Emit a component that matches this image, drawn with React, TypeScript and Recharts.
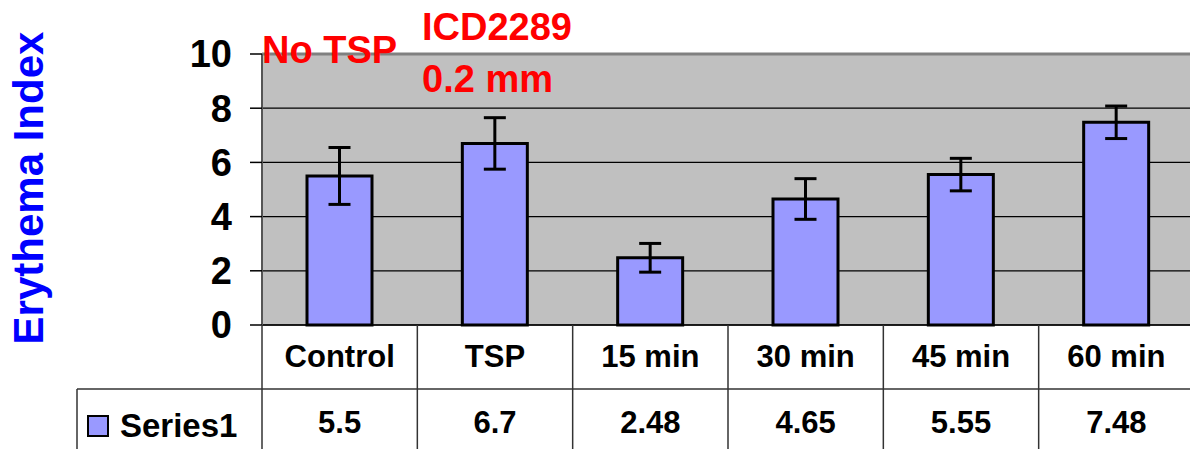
import React from 'react';
import { BarChart, Bar, XAxis, YAxis, CartesianGrid, ErrorBar, ReferenceLine } from 'recharts';

const categories = ['Control', 'TSP', '15 min', '30 min', '45 min', '60 min'];
const series1 = [5.5, 6.7, 2.48, 4.65, 5.55, 7.48];
const series1Err = [1.05, 0.95, 0.53, 0.75, 0.6, 0.6];
const yTicks = [0, 2, 4, 6, 8, 10];

const data = categories.map((name, i) => ({ name, value: series1[i], err: series1Err[i] }));

const FONT = '"Liberation Sans", Arial, sans-serif';

const TableTick = (props: any) => {
  const { x, y, payload, index } = props;
  const half = payload && payload.offset ? payload.offset : 155.33 / 2;
  const i = payload && payload.index != null ? payload.index : index;
  return (
    <g>
      <text x={x} y={y + 42} textAnchor="middle" fontSize={31} fontWeight="bold" fontFamily={FONT} fill="#000">
        {payload.value}
      </text>
      <text x={x} y={y + 108} textAnchor="middle" fontSize={31} fontWeight="bold" fontFamily={FONT} fill="#000">
        {String(data[i].value)}
      </text>
      <line x1={x + half} x2={x + half} y1={y} y2={y + 124} stroke="#333" strokeWidth={1.5} />
    </g>
  );
};

export default function App() {
  return (
    <div style={{ position: 'relative', width: 1190, height: 449, overflow: 'hidden', background: '#fff' }}>
      <style>{`body{margin:0}`}</style>
      <BarChart width={1194} height={449} data={data} margin={{ top: 54, right: 0, left: 0, bottom: 0 }}>
        <CartesianGrid vertical={false} stroke="#000" strokeWidth={1.2} fill="#C0C0C0" />
        <ReferenceLine y={10} stroke="#808080" strokeWidth={3} />
        <XAxis
          dataKey="name"
          height={124}
          tickSize={0}
          tickMargin={0}
          tickLine={false}
          axisLine={{ stroke: '#000', strokeWidth: 1.5 }}
          tick={<TableTick />}
          interval={0}
        />
        <YAxis
          width={262}
          domain={[0, 10]}
          ticks={yTicks}
          interval={0}
          tickSize={12}
          tickMargin={18}
          tickLine={{ stroke: '#000', strokeWidth: 1.5 }}
          axisLine={{ stroke: '#555', strokeWidth: 2 }}
          tick={{ fontSize: 38, fontWeight: 'bold', fill: '#000', fontFamily: FONT }}
        />
        <Bar dataKey="value" barSize={65} fill="#9999FF" stroke="#000" strokeWidth={3} isAnimationActive={false}>
          <ErrorBar dataKey="err" width={11} stroke="#000" strokeWidth={3} />
        </Bar>
      </BarChart>
      <svg
        width={1190}
        height={449}
        style={{ position: 'absolute', left: 0, top: 0, pointerEvents: 'none' }}
      >
        <line x1={77} x2={1194} y1={389} y2={389} stroke="#333" strokeWidth={1.5} />
        <line x1={77} x2={77} y1={389} y2={449} stroke="#333" strokeWidth={1.5} />
        <line x1={262} x2={262} y1={325} y2={449} stroke="#333" strokeWidth={1.5} />
        <rect x={88} y={416} width={20} height={20} fill="#9999FF" stroke="#000" strokeWidth={2} />
        <text x={120} y={437} fontSize={33} fontWeight="bold" fontFamily={FONT} fill="#000">
          Series1
        </text>
        <text
          x={43}
          y={188}
          transform="rotate(-90 43 188)"
          textAnchor="middle"
          fontSize={42}
          fontWeight="bold"
          fontFamily={FONT}
          fill="#0000FF"
        >
          Erythema Index
        </text>
        <text x={262} y={63} fontSize={38} fontWeight="bold" fontFamily={FONT} fill="#FF0000">
          No TSP
        </text>
        <text x={422} y={40} fontSize={38} fontWeight="bold" fontFamily={FONT} fill="#FF0000">
          ICD2289
        </text>
        <text x={422} y={92} fontSize={38} fontWeight="bold" fontFamily={FONT} fill="#FF0000">
          0.2 mm
        </text>
      </svg>
    </div>
  );
}
